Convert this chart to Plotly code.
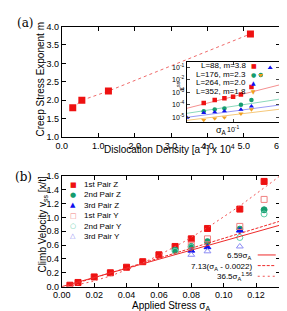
import numpy as np
import plotly.graph_objects as go

W, H = 287, 311
def px(x): return x / W
def py(y): return 1 - y / H

# ---------------- Panel (a) data ----------------
density = [0.3, 0.55, 1.28, 5.18]
exponent_m = [1.8, 2.0, 2.25, 3.8]

# ---------------- Inset data ----------------
inset_labels = ["L=88, m=3.8", "L=176, m=2.3", "L=264, m=2.0", "L=352, m=1.8"]
inset_m = [3.8, 2.3, 2.0, 1.8]
inset_rate_at_01 = [4.6e-4, 7.9e-5, 3.2e-5, 1.66e-5]
sig_L88 = [0.07, 0.08, 0.09, 0.10, 0.11, 0.125]
rate_L88 = [1.41e-4, 2.51e-4, 3.39e-4, 4.57e-4, 6.92e-4, 2.63e-3]
sig_L176 = [0.07, 0.08, 0.09, 0.11, 0.125, 0.14]
rate_L176 = [3.24e-5, 4.37e-5, 5.25e-5, 1.05e-4, 2.51e-4, 2.34e-2]
sig_L264 = [0.057, 0.07, 0.08, 0.09, 0.11, 0.125, 0.157]
rate_L264 = [1.0e-5, 2.4e-5, 2.69e-5, 3.24e-5, 4.37e-5, 7.76e-5, 8.9e-2]
sig_L352 = [0.07, 0.08, 0.09, 0.11, 0.125, 0.14]
rate_L352 = [6.3e-6, 8.3e-6, 1.0e-5, 2.04e-5, 4.37e-5, 2.34e-2]

# ---------------- Panel (b) data ----------------
sig_1Z = [0.005, 0.01, 0.02, 0.03, 0.04, 0.05, 0.06, 0.07, 0.08, 0.09, 0.11, 0.125]
v_1Z = [0.02, 0.06, 0.14, 0.20, 0.28, 0.36, 0.46, 0.58, 0.69, 0.84, 1.12, 1.52]
sig_2Z = [0.07, 0.08, 0.09, 0.11, 0.125]
v_2Z = [0.53, 0.58, 0.65, 0.83, 1.11]
sig_3Z = [0.08, 0.09, 0.11]
v_3Z = [0.52, 0.57, 0.81]
sig_1Y = [0.08, 0.09, 0.11, 0.125]
v_1Y = [0.60, 0.69, 0.87, 1.26]
sig_2Y = [0.07, 0.08, 0.11, 0.125]
v_2Y = [0.51, 0.57, 0.71, 1.05]
sig_3Y = [0.08, 0.09, 0.11]
v_3Y = [0.46, 0.51, 0.58]
fit_labels = ["6.59σ<sub>A</sub>", "7.13(σ<sub>A</sub> - 0.0022)", "36.5σ<sub>A</sub><sup>1.56</sup>"]

RED = "#ee1111"
GREEN = "#169c6e"
BLUE = "#1010ee"
ORANGE = "#f0a020"
LRED = "#f08080"
LGREEN = "#60cca8"
LBLUE = "#8c8cf4"
FONT = "Liberation Sans, Arial, sans-serif"

fig = go.Figure()

# Panel (a)
fig.add_trace(go.Scatter(x=density, y=exponent_m, mode="lines",
                         line=dict(color="#f06a6a", width=1, dash="dot"),
                         xaxis="x", yaxis="y", showlegend=False))
fig.add_trace(go.Scatter(x=density, y=exponent_m, mode="markers",
                         marker=dict(symbol="square", size=7, color=RED),
                         xaxis="x", yaxis="y", showlegend=False))

# Inset
inset_xlog = [-1.245, -0.7575]
inset_ylog = [-5.38, -0.62]
sfit = np.logspace(inset_xlog[0], inset_xlog[1], 30)
line_cols = ["#f49090", "#8ad8bc", "#9a9af6", "#f6c87a"]
for m, a, c in zip(inset_m, inset_rate_at_01, line_cols):
    fig.add_trace(go.Scatter(x=sfit, y=a * (sfit / 0.1) ** m, mode="lines",
                             line=dict(color=c, width=1), xaxis="x3", yaxis="y3",
                             showlegend=False))
for s, r, c, sym in [(sig_L88, rate_L88, RED, "square"),
                     (sig_L176, rate_L176, GREEN, "circle"),
                     (sig_L264, rate_L264, BLUE, "triangle-up"),
                     (sig_L352, rate_L352, ORANGE, "triangle-down")]:
    fig.add_trace(go.Scatter(x=s, y=r, mode="markers",
                             marker=dict(symbol=sym, size=4.5, color=c),
                             xaxis="x3", yaxis="y3", showlegend=False))

# Panel (b)
series_b = [(sig_1Z, v_1Z, "square", RED),
            (sig_2Z, v_2Z, "circle", GREEN),
            (sig_3Z, v_3Z, "triangle-up", BLUE),
            (sig_1Y, v_1Y, "square-open", LRED),
            (sig_2Y, v_2Y, "circle-open", LGREEN),
            (sig_3Y, v_3Y, "triangle-up-open", LBLUE)]
for s, v, sym, c in series_b:
    fig.add_trace(go.Scatter(x=s, y=v, mode="markers",
                             marker=dict(symbol=sym, size=6, color=c,
                                         line=dict(width=1, color=c)),
                             xaxis="x2", yaxis="y2", showlegend=False))
sl = np.linspace(0, 0.135, 200)
fits = [(6.59 * sl, "solid", "#ee2a2a"),
        (7.13 * (sl - 0.0022), "3px,1.5px", "#ee2a2a"),
        (36.5 * sl ** 1.56, "2px,3px", "#f05050")]
for yv, d, c in fits:
    fig.add_trace(go.Scatter(x=sl, y=yv, mode="lines", line=dict(color=c, width=1, dash=d),
                             xaxis="x2", yaxis="y2", showlegend=False))

ax_common = dict(showline=True, linecolor="black", linewidth=1, mirror="ticks",
                 ticks="inside", ticklen=4, tickcolor="black", showgrid=False,
                 zeroline=False, tickfont=dict(family=FONT, size=9, color="black"))
X0, X1 = 47.3, 277.8
fig.update_layout(
    width=W, height=H, margin=dict(l=0, r=0, t=0, b=0),
    paper_bgcolor="white", plot_bgcolor="white", showlegend=False,
    xaxis=dict(domain=[px(X0), px(X1)], range=[0, 6], dtick=1, tickformat=".1f",
               anchor="y", **ax_common),
    yaxis=dict(domain=[py(128.3), py(14)], range=[1, 4], dtick=0.5, tickformat=".1f",
               anchor="x", **ax_common),
    xaxis2=dict(domain=[px(X0), px(X1)], range=[0, 0.135], dtick=0.02, tickformat=".2f",
                anchor="y2", **ax_common),
    yaxis2=dict(domain=[py(282.7), py(168.3)], range=[0, 1.6], dtick=0.2, tickformat=".1f",
                anchor="x2", **ax_common),
    xaxis3=dict(domain=[px(179), px(276.5)], type="log", range=inset_xlog,
                tickvals=[0.1], ticktext=["10<sup>-1</sup>"], anchor="y3",
                showline=True, linecolor="black", linewidth=1, mirror="ticks",
                ticks="inside", ticklen=3, showgrid=False, zeroline=False,
                tickfont=dict(family=FONT, size=7, color="black")),
    yaxis3=dict(domain=[py(113), py(51)], type="log", range=inset_ylog,
                tickvals=[1e-1, 1e-2, 1e-3, 1e-4, 1e-5],
                ticktext=["10<sup>-1</sup>", "10<sup>-2</sup>", "10<sup>-3</sup>",
                          "10<sup>-4</sup>", "10<sup>-5</sup>"], anchor="x3",
                showline=True, linecolor="black", linewidth=1, mirror="ticks",
                ticks="inside", ticklen=3, showgrid=False, zeroline=False,
                tickfont=dict(family=FONT, size=7, color="black")),
)

anns = []
def ann(text, x, y, size=10, xanchor="center", yanchor="middle", angle=0, color="black",
        family=FONT):
    anns.append(dict(text=text, x=px(x), y=py(y), xref="paper", yref="paper",
                     showarrow=False, xanchor=xanchor, yanchor=yanchor, textangle=angle,
                     borderpad=0, font=dict(family=family, size=size, color=color)))

# panel labels
ann("(a)", 8.5, 10, size=12, family="DejaVu Serif, serif")
ann("(b)", 7, 169, size=12, family="DejaVu Serif, serif")
# axis titles
ann("Creep Stress Exponent m", 25, 68, size=10, angle=-90)
ann("Dislocation Density [a<sup>-2</sup>] x 10<sup>4</sup>", 161, 140.5, size=10)
ann("Climb Velocity v<sub>ss</sub> [x/t]", 27, 218, size=10, angle=-90)
ann("Applied Stress σ<sub>A</sub>", 163, 302.5, size=10)
# inset titles
ann("ε\u0307<sup>ss</sup>", 172, 76, size=8, angle=-90)
ann("σ<sub>A</sub>", 216, 121, size=9)
# inset legend
inset_cols = [RED, GREEN, BLUE, ORANGE]
inset_syms = ["\u25A0", "\u25CF", "\u25B2", "\u25BC"]
for i, (lab, c, s) in enumerate(zip(inset_labels, inset_cols, inset_syms)):
    yy = 54.5 + i * 8.8
    ann(lab, 243, yy, size=8, xanchor="right")
    ann(s, 250, yy, size=6, color=c, family="DejaVu Sans")
# panel (b) legend
b_labels = ["1st Pair Z", "2nd Pair Z", "3rd Pair Z", "1st Pair Y", "2nd Pair Y", "3rd Pair Y"]
b_syms = ["\u25A0", "\u25CF", "\u25B2", "\u25A1", "\u25CB", "\u25B3"]
b_cols = [RED, GREEN, BLUE, LRED, LGREEN, LBLUE]
for i, (lab, s, c) in enumerate(zip(b_labels, b_syms, b_cols)):
    yy = 177.3 + i * 10.7
    ann(s, 59.3, yy, size=7, color=c, family="DejaVu Sans")
    ann(lab, 70, yy, size=8, xanchor="left")
# fit legend
shapes = []
text_shift = [1.5, 1.5, 0]
for i, (lab, (yv, d, c)) in enumerate(zip(fit_labels, fits)):
    yy = 250 + i * 11
    ann(lab, 249, yy + text_shift[i], size=8, xanchor="right")
    shapes.append(dict(type="line", xref="paper", yref="paper", x0=px(254), x1=px(273),
                       y0=py(yy), y1=py(yy), line=dict(color=c, width=1, dash=d)))

fig.update_layout(annotations=anns, shapes=shapes)
fig.write_html("out.html")
